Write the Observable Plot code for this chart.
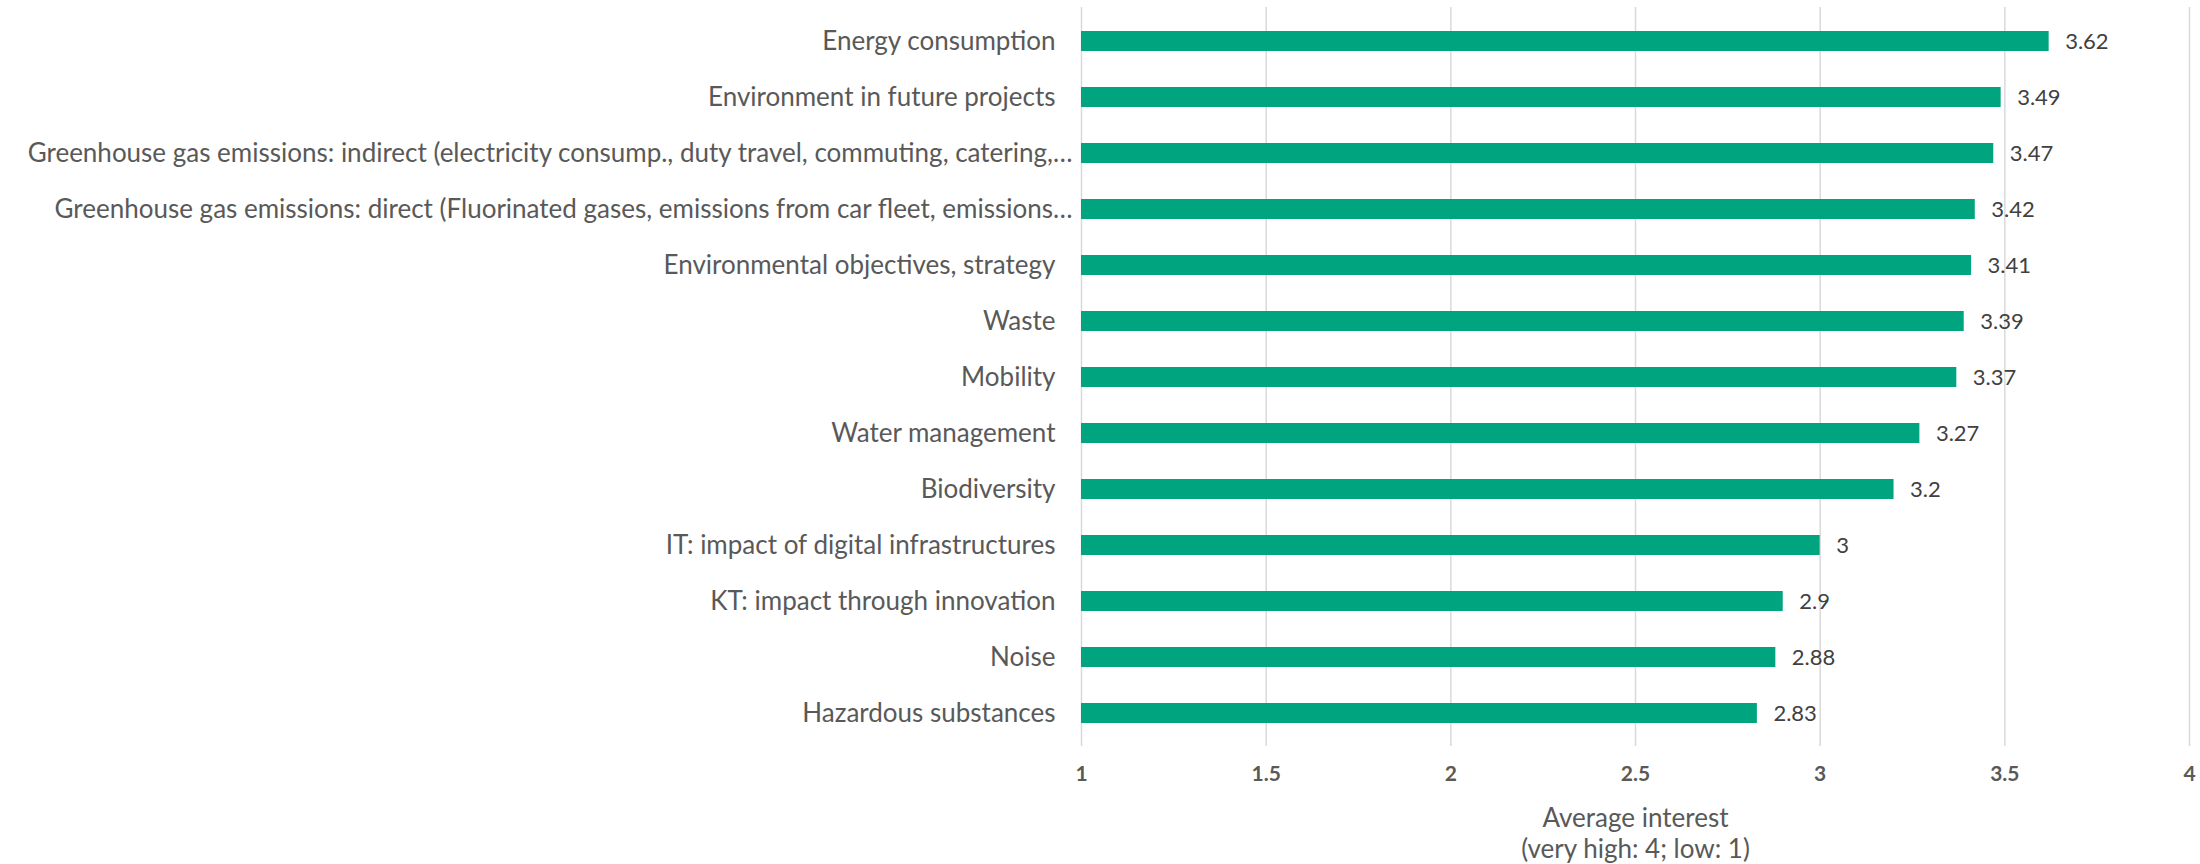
<!DOCTYPE html>
<html>
<head>
<meta charset="utf-8">
<script src="https://cdn.jsdelivr.net/npm/d3@7"></script>
<script src="https://cdn.jsdelivr.net/npm/@observablehq/plot@0.6"></script>
<style>
  html, body { margin: 0; padding: 0; background: #ffffff; }
  #chart svg { display: block; }
</style>
</head>
<body>
<div id="chart"></div>
<script>
const categories = [
  "Energy consumption",
  "Environment in future projects",
  "Greenhouse gas emissions: indirect (electricity consump., duty travel, commuting, catering,…",
  "Greenhouse gas emissions: direct (Fluorinated gases, emissions from car fleet, emissions…",
  "Environmental objectives, strategy",
  "Waste",
  "Mobility",
  "Water management",
  "Biodiversity",
  "IT: impact of digital infrastructures",
  "KT: impact through innovation",
  "Noise",
  "Hazardous substances"
];
const values = [3.62, 3.49, 3.47, 3.42, 3.41, 3.39, 3.37, 3.27, 3.2, 3, 2.9, 2.88, 2.83];
const xTicks = [1, 1.5, 2, 2.5, 3, 3.5, 4];
const xTickLabels = ["1", "1.5", "2", "2.5", "3", "3.5", "4"];
const axisTitle = "Average interest\n(very high: 4; low: 1)";

const data = categories.map((c, i) => ({category: c, value: values[i]}));
const longLabels = categories.filter(c => c.endsWith("…"));
const shortLabels = categories.filter(c => !c.endsWith("…"));

const FONT = "Lato, 'Open Sans', sans-serif";

const chart = Plot.plot({
  width: 2200,
  height: 864,
  marginLeft: 1081,
  marginRight: 11,
  marginTop: 7,
  marginBottom: 118,
  style: {fontFamily: FONT, background: "#ffffff"},
  x: {domain: [1, 4]},
  y: {domain: categories, paddingInner: 0.65, paddingOuter: 0.325},
  marks: [
    Plot.gridX(xTicks, {stroke: "#d9d9d9", strokeOpacity: 1, strokeWidth: 1.5}),
    Plot.barX(data, {x1: 1, x2: "value", y: "category", fill: "#00A57F"}),
    Plot.text(data, {
      x: "value", y: "category", text: d => String(d.value),
      dx: 16, textAnchor: "start", fontSize: 22, fill: "#404040"
    }),
    Plot.axisX(xTicks, {
      tickSize: 0, tickPadding: 20, fontSize: 21, fontWeight: "bold",
      fill: "#595959", label: null,
      tickFormat: (d) => xTickLabels[xTicks.indexOf(d)]
    }),
    Plot.axisY(shortLabels, {
      tickSize: 0, tickPadding: 26, fontSize: 26, fill: "#595959", label: null
    }),
    Plot.axisY(longLabels, {
      tickSize: 0, tickPadding: 9, fontSize: 26, fill: "#595959", label: null
    }),
    Plot.text([axisTitle], {
      frameAnchor: "bottom", lineAnchor: "middle", dy: 86,
      fontSize: 26, lineHeight: 1.19, fill: "#595959"
    })
  ]
});
document.getElementById("chart").appendChild(chart);
</script>
</body>
</html>
